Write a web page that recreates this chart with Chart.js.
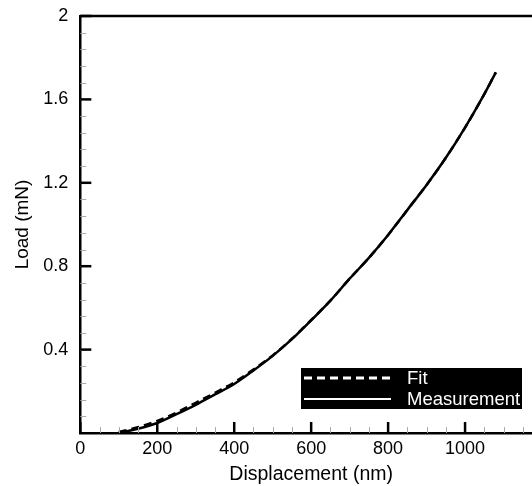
<!DOCTYPE html>
<html>
<head>
<meta charset="utf-8">
<script src="https://cdn.jsdelivr.net/npm/chart.js@4/dist/chart.umd.min.js"></script>
<style>
  html, body { margin: 0; padding: 0; background: #fff; overflow: hidden; }
  #wrap { width: 542px; height: 486px; }
</style>
</head>
<body>
<div id="wrap"><canvas id="load-chart" width="542" height="486"></canvas></div>
<script>
// values
const displacement = [100, 150, 200, 250, 300, 350, 400, 450, 500, 550, 600, 650, 700, 750, 800, 850, 900, 950, 1000, 1050, 1080];
const measuredLoad = [0, 0.02, 0.048, 0.09, 0.135, 0.185, 0.235, 0.3, 0.37, 0.45, 0.54, 0.635, 0.74, 0.84, 0.95, 1.07, 1.19, 1.32, 1.465, 1.625, 1.73];
const fitLoad = [0.005, 0.028, 0.058, 0.098, 0.145, 0.193, 0.243, 0.305, 0.372, 0.452, 0.542, 0.635, 0.74, 0.84, 0.95, 1.07, 1.19, 1.32, 1.465, 1.625, 1.73];

const xMajor = [0, 200, 400, 600, 800, 1000, 1200];
const xMinorStep = 50;
const yMajor = [0.4, 0.8, 1.2, 1.6, 2];
const yMinorStep = 0.08;

const FONT = "'Liberation Sans', Arial, sans-serif";

function pts(ys) {
    return displacement.map((x, i) => ({ x: x, y: ys[i] }));
}

// inward ticks, top border and the black legend box
const framePlugin = {
    id: 'frame',
    afterDatasetsDraw(chart) {
        const ctx = chart.ctx;
        const a = chart.chartArea;
        const xs = chart.scales.x;
        const ys = chart.scales.y;
        ctx.save();

        // top border
        ctx.strokeStyle = '#000';
        ctx.lineWidth = 2.5;
        ctx.beginPath();
        ctx.moveTo(a.left, a.top);
        ctx.lineTo(a.right, a.top);
        ctx.stroke();

        // minor ticks
        ctx.strokeStyle = '#aaa';
        ctx.lineWidth = 1;
        for (let v = 0; v <= 1200; v += xMinorStep) {
            const px = Math.round(xs.getPixelForValue(v)) + 0.5;
            ctx.beginPath();
            ctx.moveTo(px, a.bottom);
            ctx.lineTo(px, a.bottom - 6);
            ctx.stroke();
        }
        for (let k = 1; k * yMinorStep < 2; k++) {
            const py = Math.round(ys.getPixelForValue(k * yMinorStep)) + 0.5;
            ctx.beginPath();
            ctx.moveTo(a.left, py);
            ctx.lineTo(a.left + 6, py);
            ctx.stroke();
        }

        // major ticks
        ctx.strokeStyle = '#000';
        ctx.lineWidth = 2.5;
        xMajor.forEach(v => {
            const px = xs.getPixelForValue(v);
            ctx.beginPath();
            ctx.moveTo(px, a.bottom);
            ctx.lineTo(px, a.bottom - 11);
            ctx.stroke();
        });
        yMajor.forEach(v => {
            const py = ys.getPixelForValue(v);
            ctx.beginPath();
            ctx.moveTo(a.left, py);
            ctx.lineTo(a.left + 11, py);
            ctx.stroke();
        });

        // legend
        const bx = 301, by = 368, bw = 221, bh = 41;
        ctx.fillStyle = '#000';
        ctx.fillRect(bx, by, bw, bh);
        ctx.strokeStyle = '#fff';
        ctx.fillStyle = '#fff';
        ctx.font = '18.5px ' + FONT;
        ctx.textBaseline = 'middle';
        const rows = [by + 10, by + 31];
        chart.data.datasets.forEach((ds, i) => {
            ctx.lineWidth = ds.legendWidth;
            ctx.setLineDash(ds.borderDash || []);
            ctx.beginPath();
            ctx.moveTo(bx + 3, rows[i]);
            ctx.lineTo(bx + 90, rows[i]);
            ctx.stroke();
            ctx.setLineDash([]);
            ctx.fillText(ds.label, bx + 106, rows[i] + 1);
        });

        ctx.restore();
    }
};

new Chart(document.getElementById('load-chart').getContext('2d'), {
    type: 'line',
    data: {
        datasets: [
            {
                label: 'Fit',
                data: pts(fitLoad),
                borderColor: '#000',
                borderWidth: 2.5,
                borderDash: [8, 5],
                legendWidth: 3,
                pointRadius: 0,
                cubicInterpolationMode: 'monotone',
                order: 1
            },
            {
                label: 'Measurement',
                data: pts(measuredLoad),
                borderColor: '#000',
                borderWidth: 2.5,
                legendWidth: 2,
                pointRadius: 0,
                cubicInterpolationMode: 'monotone',
                order: 2
            }
        ]
    },
    options: {
        responsive: false,
        animation: false,
        layout: { padding: { left: 11, top: 16, right: 0, bottom: 0 } },
        plugins: {
            legend: { display: false },
            tooltip: { enabled: false }
        },
        scales: {
            x: {
                type: 'linear',
                min: 0,
                max: 1200,
                grid: { drawOnChartArea: false, drawTicks: false },
                border: { display: true, color: '#000', width: 2.5 },
                afterFit: scale => { scale.paddingLeft = 0; scale.paddingRight = 0; },
                ticks: {
                    stepSize: 200,
                    padding: 5,
                    color: '#000',
                    font: { family: FONT, size: 18 },
                    callback: v => (v >= 1200 ? '' : String(v))
                },
                title: {
                    display: true,
                    text: 'Displacement (nm)',
                    color: '#000',
                    font: { family: FONT, size: 19.5 },
                    padding: { top: -2, bottom: 0 }
                }
            },
            y: {
                type: 'linear',
                min: 0,
                max: 2,
                grid: { drawOnChartArea: false, drawTicks: false },
                border: { display: true, color: '#000', width: 2.5 },
                afterBuildTicks: scale => {
                    scale.ticks = yMajor.map(v => ({ value: v }));
                },
                afterFit: scale => { scale.paddingTop = 0; scale.paddingBottom = 0; },
                ticks: {
                    padding: 12,
                    color: '#000',
                    font: { family: FONT, size: 18 },
                    callback: v => String(Math.round(v * 10) / 10)
                },
                title: {
                    display: true,
                    text: 'Load (mN)',
                    color: '#000',
                    font: { family: FONT, size: 19 },
                    padding: { top: 0, bottom: -2.5 }
                }
            }
        }
    },
    plugins: [framePlugin]
});
</script>
</body>
</html>
